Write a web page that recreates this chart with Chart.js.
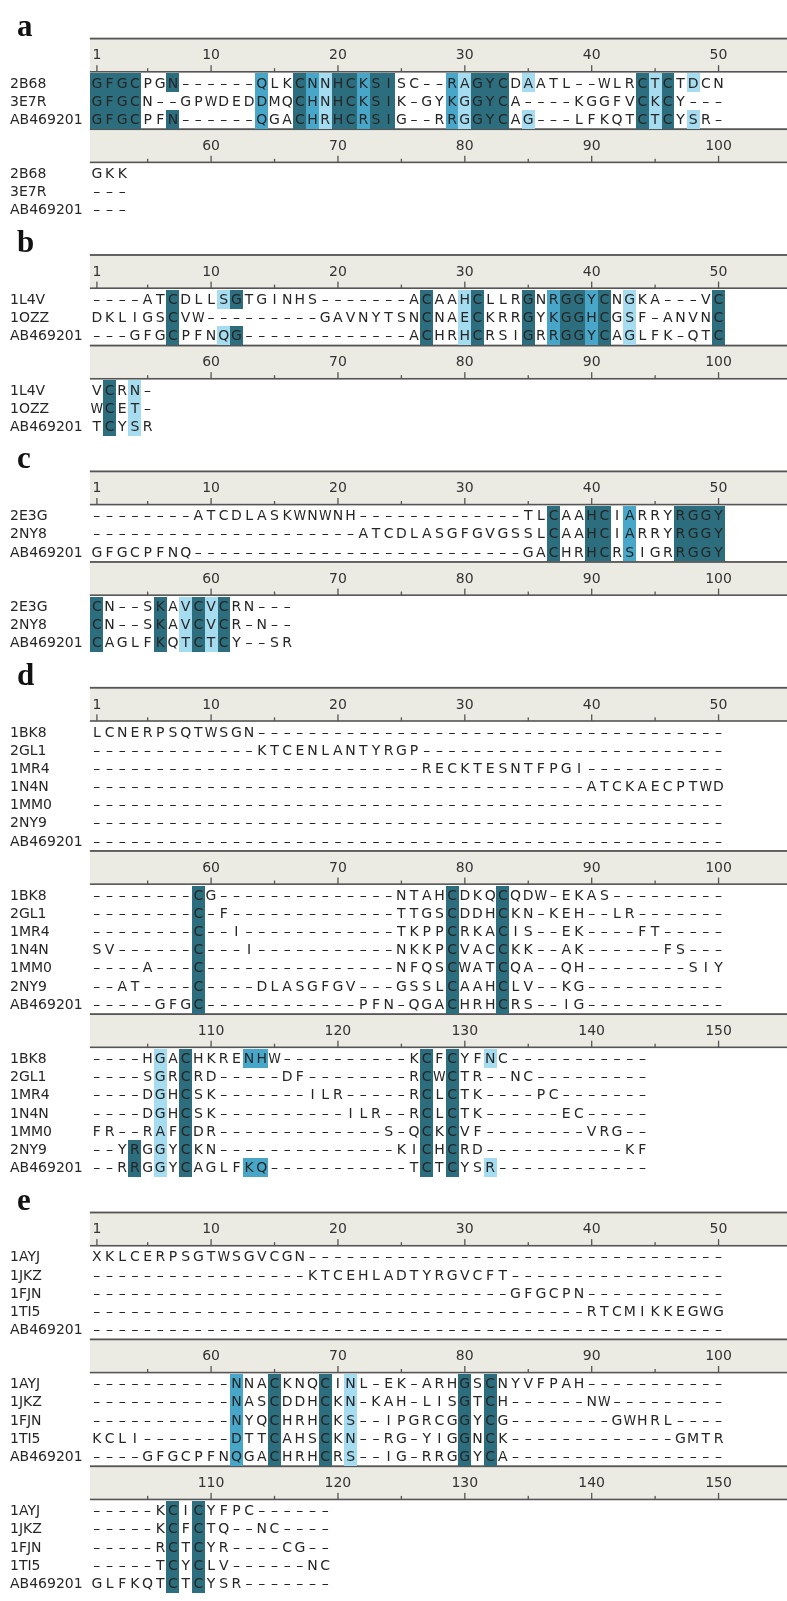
<!DOCTYPE html>
<html>
<head>
<meta charset="utf-8">
<script src="https://cdn.jsdelivr.net/npm/chart.js@4.4.1/dist/chart.umd.min.js"></script>
<style>
  html, body { margin: 0; padding: 0; background: #fff; }
</style>
</head>
<body>
<canvas id="align-chart" width="787" height="1601"></canvas>
<script>
// ---- data: names, aligned sequences, conservation level per column (1 light, 2 medium, 3 dark)
const namesA = ['2B68', '3E7R', 'AB469201'];
const seqA = [
    'GFGCPGN------QLKCNNHCKSISC--RAGYCDAATL--WLRCTCTDCN' + 'GKK',
    'GFGCN--GPWDEDDMQCHNHCKSIK-GYKGGYCA----KGGFVCKCY---' + '---',
    'GFGCPFN------QGACHRHCRSIG--RRGGYCAG---LFKQTCTCYSR-' + '---',
];
const consA = '3333..3...' + '...2..3213' + '3233....21' + '333.1.....' + '...313.1..' + '...';

const namesB = ['1L4V', '1OZZ', 'AB469201'];
const seqB = [
    '----ATCDLLSGTGINHS-------ACAAHCLLRGNRGGYCNGKA---VC' + 'VCRN-',
    'DKLIGSCVW---------GAVNYTSNCNAECKRRGYKGGHCGSF-ANVNC' + 'WCET-',
    '---GFGCPFNQG-------------ACHRHCRSIGRRGGYCAGLFK-QTC' + 'TCYSR',
];
const consB = '......3...' + '13........' + '......3..1' + '3...3.2332' + '3.1......3' + '.3.1.';

const namesC = ['2E3G', '2NY8', 'AB469201'];
const seqC = [
    '--------' + 'ATCDLASKWNWNH' + '-------------' + 'TLCAAHCIARRYRGGY' + 'CN--SKAVCVCRN---',
    '----------' + '----------' + '-' + 'ATCDLASGFGVGSSLCAAHCIARRYRGGY' + 'CN--SKAVCVCR-N--',
    'GFGCPFNQ' + '----------' + '----------' + '------' + 'GACHRHCRSIGRRGGY' + 'CAGLFKQTCTCY--SR',
];
const consC = '..........' + '..........' + '..........' + '......3..3' + '3.2...3333' + '3....3.131' + '3.....';

const namesD = ['1BK8', '2GL1', '1MR4', '1N4N', '1MM0', '2NY9', 'AB469201'];
const seqD = [
    'LCNERPSQTWSGN' + '----------' + '----------' + '----------' + '-------' +
    '--------' + 'CG' + '----------' + '----' + 'NTAHCDKQCQDW-EKAS' + '---------' +
    '----' + 'HGACHKRENHW' + '----------' + 'KCFCYFNC' + '----------' + '-',

    '----------' + '---' + 'KTCENLANTYRGP' + '----------' + '----------' + '----' +
    '--------' + 'C-F' + '----------' + '---' + 'TTGSCDDHCKN-KEH--LR' + '-------' +
    '----' + 'SGRCRD' + '-----' + 'DF' + '--------' + 'RCWCTR--NC' + '---------',

    '----------' + '----------' + '------' + 'RECKTESNTFPGI' + '----------' + '-' +
    '--------' + 'C--I' + '----------' + '--' + 'TKPPCRKACIS--EK----FT' + '-----' +
    '----' + 'DGHCSK' + '-------' + 'ILR' + '-----' + 'RCLCTK----PC' + '-------',

    '----------' + '----------' + '----------' + '---------' + 'ATCKAECPTWD' +
    'SV------C---I' + '----------' + '-' + 'NKKPCVACCKK--AK------FS---' +
    '----' + 'DGHCSK' + '----------' + 'ILR--RCLCTK------EC-----',

    '----------' + '----------' + '----------' + '----------' + '----------' +
    '----A---C' + '----------' + '-----' + 'NFQSCWATCQA--QH--------SIY' +
    'FR--RAFCDR' + '----------' + '---' + 'S-QCKCVF--------VRG--',

    '----------' + '----------' + '----------' + '----------' + '----------' +
    '--AT----C----DLASGFGV---GSSLCAAHCLV--KG' + '----------' + '-' +
    '--YRGGYCKN' + '----------' + '----' + 'KICHCRD' + '----------' + '-' + 'KF',

    '----------' + '----------' + '----------' + '----------' + '----------' +
    '-----GFGC' + '----------' + '--' + 'PFN-QGACHRHCRS--IG' + '----------' + '-' +
    '--RRGGYCAGLFKQ' + '----------' + '-' + 'TCTCYSR' + '----------' + '--',
];
const consD = '..........' + '..........' + '..........' + '..........' + '..........' +
    '........3.' + '..........' + '........3.' + '..3.......' + '..........' +
    '...3.1.3..' + '..22......' + '......3.3.' + '.1........' + '....';

const namesE = ['1AYJ', '1JKZ', '1FJN', '1TI5', 'AB469201'];
const seqE = [
    'XKLCERPSGTWSGVCGN' + '----------' + '----------' + '----------' + '---' +
    '----------' + '-' + 'NNACKNQCINL-EK-ARHGSCNYVFPAH' + '----------' + '-' +
    '-----KCICYFPC------',

    '----------' + '-------' + 'KTCEHLADTYRGVCFT' + '----------' + '-------' +
    '----------' + '-' + 'NASCDDHCKN-KAH-LISGTCH' + '------NW---------' +
    '-----KCFCTQ--NC----',

    '----------' + '----------' + '----------' + '---' + 'GFGCPN' + '----------' + '-' +
    '----------' + '-' + 'NYQCHRHCKS--IPGRCGGYCG' + '--------GWHRL----' +
    '-----RCTCYR----CG--',

    '----------' + '----------' + '----------' + '---------' + 'RTCMIKKEGWG' +
    'KCLI-------DTTCAHSCKN--RG-YIGGNCK' + '----------' + '---' + 'GMTR' +
    '-----TCYCLV------NC',

    '----------' + '----------' + '----------' + '----------' + '----------' +
    '----GFGCPFNQGACHRHCRS--IG-RRGGYCA' + '----------' + '-------' +
    'GLFKQTCTCYSR-------',
];
const consE = '..........' + '..........' + '..........' + '..........' + '..........' +
    '..........' + '.2..3...3.' + '1........3' + '.3........' + '..........' +
    '......3.3.' + '.........';

const rulerLabels = [[1, 10, 20, 30, 40, 50], [60, 70, 80, 90, 100], [110, 120, 130, 140, 150]];
const cellColors = {1: '#a6dcef', 2: '#48a7c8', 3: '#2d6e7e'};

const panels = [
    {letter: 'a', names: namesA, seqs: seqA, cons: consA},
    {letter: 'b', names: namesB, seqs: seqB, cons: consB},
    {letter: 'c', names: namesC, seqs: seqC, cons: consC},
    {letter: 'd', names: namesD, seqs: seqD, cons: consD},
    {letter: 'e', names: namesE, seqs: seqE, cons: consE},
];

// ---- layout (pixels)
const W = 787, H = 1601;
const COL_W = 12.95, COL1_X = 90.7, BLOCK = 50;
const TOP = 30, RULER_H = 36.5, ROW_H = 18.33, PANEL_GAP = 35.6;
const X_MIN = 1 - COL1_X / COL_W;
const X_MAX = X_MIN + W / COL_W;

let cursor = TOP;
panels.forEach(p => {
    p.blocks = [];
    const n = Math.ceil(p.seqs[0].length / BLOCK);
    for (let k = 0; k < n; k++) {
        p.blocks.push({k: k, top: cursor});
        cursor += RULER_H + p.names.length * ROW_H;
    }
    cursor += PANEL_GAP;
});

function rowCenter(block, r) {
    return block.top + RULER_H + (r + 0.5) * ROW_H;
}

function cellPoints(level) {
    const pts = [];
    panels.forEach(p => {
        p.seqs.forEach((s, r) => {
            for (let c = 0; c < s.length; c++) {
                if (p.cons[c] === String(level) && s[c] !== '-') {
                    const b = p.blocks[Math.floor(c / BLOCK)];
                    pts.push({x: c % BLOCK + 1, y: rowCenter(b, r)});
                }
            }
        });
    });
    return pts;
}

function cellImage(color) {
    const cv = document.createElement('canvas');
    cv.width = 13;
    cv.height = 19;
    const g = cv.getContext('2d');
    g.fillStyle = color;
    g.fillRect(0, 0, 13, 19);
    return cv;
}

const rulerPlugin = {
    id: 'ruler',
    beforeDatasetsDraw(chart) {
        const {ctx, scales: {x, y}} = chart;
        ctx.save();
        panels.forEach(p => {
            p.blocks.forEach(b => {
                const t = y.getPixelForValue(b.top);
                const left = x.getPixelForValue(0.45);
                const right = chart.width;
                ctx.fillStyle = '#ecebe3';
                ctx.fillRect(left, t, right - left, 34.5);
                ctx.fillStyle = '#555';
                ctx.fillRect(left, t, right - left, 1.8);
                ctx.fillRect(left, t + 33.3, right - left, 1.6);
                for (let pos = 1; pos <= BLOCK; pos++) {
                    const col = b.k * BLOCK + pos;
                    const major = col % 10 === 0 || col === 1;
                    if (!major && col % 5 !== 0) continue;
                    const len = major ? 6.5 : 3.5;
                    ctx.fillRect(x.getPixelForValue(pos) - 0.6, t + 34 - len, 1.3, len);
                }
                ctx.fillStyle = '#333';
                ctx.font = '14px "DejaVu Sans"';
                ctx.textAlign = 'center';
                ctx.textBaseline = 'middle';
                rulerLabels[b.k].forEach(v => {
                    ctx.fillText(String(v), x.getPixelForValue(v - b.k * BLOCK), t + 18);
                });
            });
            ctx.fillStyle = '#111';
            ctx.font = 'bold 31px "Liberation Serif"';
            ctx.textAlign = 'left';
            ctx.textBaseline = 'alphabetic';
            ctx.fillText(p.letter, 17, y.getPixelForValue(p.blocks[0].top) - 2);
        });
        ctx.restore();
    }
};

const lettersPlugin = {
    id: 'letters',
    afterDatasetsDraw(chart) {
        const {ctx, scales: {x, y}} = chart;
        ctx.save();
        ctx.fillStyle = '#262626';
        ctx.font = '14px "DejaVu Sans"';
        ctx.textBaseline = 'middle';
        panels.forEach(p => {
            p.blocks.forEach(b => {
                p.names.forEach((name, r) => {
                    const py = y.getPixelForValue(rowCenter(b, r)) + 1;
                    ctx.textAlign = 'left';
                    ctx.fillText(name, 10, py);
                    ctx.textAlign = 'center';
                    const part = p.seqs[r].slice(b.k * BLOCK, (b.k + 1) * BLOCK);
                    for (let i = 0; i < part.length; i++) {
                        const ch = part[i] === '-' ? '\u2013' : part[i];
                        ctx.fillText(ch, x.getPixelForValue(i + 1), py, 12.6);
                    }
                });
            });
        });
        ctx.restore();
    }
};

const ctx = document.getElementById('align-chart').getContext('2d');
const alignChart = new Chart(ctx, {
    type: 'scatter',
    data: {
        datasets: [1, 2, 3].map(level => ({
            data: cellPoints(level),
            pointStyle: cellImage(cellColors[level]),
            pointRadius: 7,
            pointHoverRadius: 7,
        }))
    },
    options: {
        responsive: false,
        animation: false,
        events: [],
        layout: {padding: 0},
        plugins: {
            legend: {display: false},
            tooltip: {enabled: false},
        },
        scales: {
            x: {type: 'linear', display: false, min: X_MIN, max: X_MAX},
            y: {type: 'linear', display: false, min: 0, max: H, reverse: true},
        },
    },
    plugins: [rulerPlugin, lettersPlugin],
});
</script>
</body>
</html>
